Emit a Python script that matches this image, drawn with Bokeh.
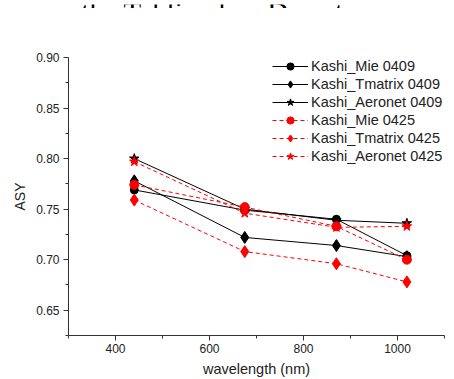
from bokeh.plotting import figure
from bokeh.layouts import column
from bokeh.models import Range1d, FixedTicker, Legend, LegendItem, NumeralTickFormatter
from bokeh.core.properties import value
from bokeh.embed import file_html
from bokeh.resources import INLINE

wavelength = [440, 675, 870, 1020]
mie_0409 = [0.769, 0.749, 0.740, 0.704]
tmatrix_0409 = [0.778, 0.722, 0.714, 0.703]
aeronet_0409 = [0.800, 0.750, 0.739, 0.736]
mie_0425 = [0.774, 0.752, 0.733, 0.700]
tmatrix_0425 = [0.759, 0.708, 0.696, 0.678]
aeronet_0425 = [0.797, 0.746, 0.732, 0.733]

labels = ["Kashi_Mie 0409", "Kashi_Tmatrix 0409", "Kashi_Aeronet 0409",
          "Kashi_Mie 0425", "Kashi_Tmatrix 0425", "Kashi_Aeronet 0425"]
series = [mie_0409, tmatrix_0409, aeronet_0409, mie_0425, tmatrix_0425, aeronet_0425]
markers = ["circle", "diamond", "star", "circle", "diamond", "star"]
sizes = [8, 12, 10, 9, 12, 10]
colors = ["black", "black", "black", "#ff0000", "#ff0000", "#ff0000"]
dashes = ["solid", "solid", "solid", "4 3", "4 3", "4 3"]

x_ticks = [400, 600, 800, 1000]
x_minor = [300, 500, 700, 900, 1100]
y_ticks = [0.65, 0.70, 0.75, 0.80, 0.85, 0.90]
y_minor = [0.625, 0.675, 0.725, 0.775, 0.825, 0.875]
x_label = "wavelength (nm)"
y_label = "ASY"
page_heading = "Basin in the Taklimakan Desert"

# strip showing the bottom of the (cropped) page heading
top = figure(width=454, height=8, output_backend="svg", toolbar_location=None,
             x_range=Range1d(0, 454), y_range=Range1d(0, 8),
             min_border=0, min_border_left=0, min_border_right=0,
             min_border_top=0, min_border_bottom=0)
top.axis.visible = False
top.xgrid.visible = False
top.ygrid.visible = False
top.outline_line_color = None
top.text(x=[332], y=[0.5], text=[page_heading], text_align="right",
         text_baseline="alphabetic", text_font=value("Liberation Serif"),
         text_font_size="29px", text_color="black")

p = figure(width=454, height=371, output_backend="svg", toolbar_location=None,
           x_range=Range1d(300, 1100), y_range=Range1d(0.625, 0.90),
           min_border_left=68, min_border_right=10, min_border_top=49, min_border_bottom=44)
p.outline_line_color = None
p.xgrid.visible = False
p.ygrid.visible = False

items = []
for lab, ys, mk, sz, col, dash in zip(labels, series, markers, sizes, colors, dashes):
    ln = p.line(wavelength, ys, line_color=col, line_width=1, line_dash=dash)
    sc = p.scatter(wavelength, ys, marker=mk, size=sz, fill_color=col, line_color=col)
    items.append(LegendItem(label=lab, renderers=[ln, sc]))

legend = Legend(items=items, location=(204, 170), padding=0, margin=0,
                spacing=0, glyph_width=36, glyph_height=18, label_height=18,
                label_standoff=3, label_text_font="Liberation Sans",
                label_text_font_size="14.5px", label_text_color="#222222",
                background_fill_alpha=0, border_line_alpha=0)
p.add_layout(legend, "center")

for ax in (p.xaxis[0], p.yaxis[0]):
    ax.major_tick_out = 5
    ax.major_tick_in = 0
    ax.minor_tick_out = 3
    ax.minor_tick_in = 0
    ax.axis_line_color = "#333333"
    ax.major_tick_line_color = "#333333"
    ax.minor_tick_line_color = "#333333"
    ax.major_label_text_font = "Liberation Sans"
    ax.major_label_text_font_size = "12px"
    ax.major_label_text_color = "#222222"
    ax.axis_label_text_font = "Liberation Sans"
    ax.axis_label_text_font_style = "normal"
    ax.axis_label_text_color = "#222222"

p.xaxis.ticker = FixedTicker(ticks=x_ticks, minor_ticks=x_minor)
p.yaxis.ticker = FixedTicker(ticks=y_ticks, minor_ticks=y_minor)
p.yaxis.formatter = NumeralTickFormatter(format="0.00")
p.xaxis.axis_label = x_label
p.xaxis.axis_label_text_font_size = "14.5px"
p.xaxis.axis_label_standoff = 5
p.yaxis.axis_label = y_label
p.yaxis.axis_label_text_font_size = "14px"
p.yaxis.axis_label_standoff = 5
p.xaxis.major_label_standoff = 3
p.yaxis.major_label_standoff = 4

layout = column(top, p, spacing=0)
open("out.html", "w").write(file_html(layout, INLINE))
